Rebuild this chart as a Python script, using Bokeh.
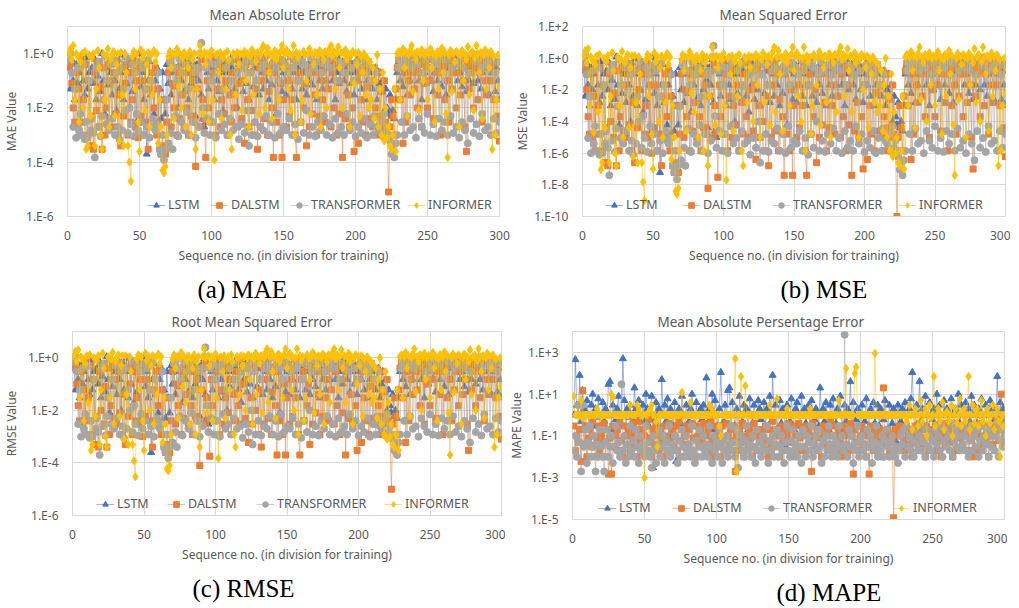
from bokeh.plotting import figure
from bokeh.models import (Range1d, FixedTicker, CustomJSTickFormatter, Legend,
                          LegendItem, Title)
from bokeh.layouts import column, row
from bokeh.embed import file_html
from bokeh.resources import INLINE

SERIES = ["LSTM", "DALSTM", "TRANSFORMER", "INFORMER"]
X_TICKS = [0, 50, 100, 150, 200, 250, 300]

# ---------------- MAE ----------------
MAE_LSTM = [
 .3, .05, .6, .1, 2e-2, .4, .08, .2, 3e-3, .5,
 .1, .03, .7, .05, .2, 4e-3, .3, .08, .6, .02,
 .15, .4, .04, 1, .1, 6e-3, .3, .07, .5, .2,
 .03, .4, .1, 8e-3, .6, .05, .2, .9, .02, .3,
 .08, .5, .01, .2, .04, .7, .1, 3e-3, .3, 1,
 .06, .2, .02, .4, 2e-4, .1, .5, .03, .2, 6e-3,
 .1, .3, 3e-3, .05, 4e-3, .2, .02, 6e-3, .4, .08,
 .5, .03, .2, .9, .06, .3, .01, .4, .1, .7,
 .04, .2, .6, .02, .3, .08, .5, .15, 5e-3, .4,
 .1, .8, .03, 4e-3, 2e-3, 3e-3, .2, .05, .6, .1,
 .3, .02, .5, .1, .04, .7, .2, 8e-3, .4, .06,
 .2, .5, .03, .3, .9, .05, .2, .01, .4, .1,
 .6, .04, .3, .08, .5, .02, .2, .7, .06, .3,
 .1, .4, .03, .6, .2, .05, .8, .1, .3, .02,
 .4, .07, .2, .5, 6e-3, .3, .1, .6, .04, .2,
 .5, .03, .3, .1, .7, .05, .2, .4, .02, .3,
 .1, .6, .05, .2, .9, .03, .4, .1, .5, .07,
 .2, .4, .02, .3, .1, .6, .05, .3, .8, .1,
 .05, .3, .6, .1, .4, .02, .2, .7, .08, .3,
 .5, .1, .3, .04, .6, .2, .08, .4, .03, .2,
 .6, .1, .3, .05, .2, .4, .02, .1, .3, .06,
 .2, .05, .1, .3, .02, .08, .2, .04, .1, 8e-3,
 .05, .01, 6e-3, .03, 5e-3, 8e-3, 4e-3, .02, .2, .5,
 .1, .4, .06, .8, .2, .03, .5, .1, .3, .7,
 .05, .3, .6, .1, .4, .02, .5, .2, .08, .6,
 .3, .1, .7, .04, .2, .5, .1, .3, .9, .06,
 .2, .4, .03, .6, .1, .3, .05, .5, .2, .8,
 .1, .4, .2, .06, .7, .3, .04, .5, .1, .3,
 .6, .08, .3, .9, .1, .4, .05, .2, 1, .3,
 .1, .5, .03, .4, .2, .6, .04, .3, .1, .02]
MAE_DALSTM = [
 .3, .5, .08, .01, 3e-3, .2, 2e-3, .05, 1e-3, .6,
 .02, 3e-3, .4, 1e-3, .1, 4e-4, 5e-3, 3e-4, .2, 8e-3,
 .5, 2e-3, .06, 3e-4, .3, 1e-3, .01, .4, 4e-3, .1,
 2e-3, .2, 6e-3, .5, 1e-3, .03, 4e-4, .3, 5e-3, .08,
 .4, 1e-3, .2, 3e-3, .02, .6, 2e-3, .1, 8e-4, .3,
 5e-3, .1, 1e-3, .4, 3e-3, 3e-4, .05, 2e-3, .2, .01,
 .3, 1e-3, .05, 3e-4, 2e-4, 4e-4, .02, 2e-4, 3e-3, .2,
 .5, 2e-3, .08, .01, .3, 1e-3, .2, 4e-3, .6, .03,
 2e-3, .4, .01, 1e-3, .2, 5e-3, .1, 3e-3, 7e-5, .05,
 .3, 2e-3, .6, .02, 4e-3, 1.5e-4, .1, .01, .5, 3e-3,
 .8, .2, 1e-3, .05, .4, 2e-3, .02, .3, 6e-3, .1,
 1e-3, .5, .03, 3e-3, .2, .01, .6, 2e-3, .08, .3,
 4e-3, .1, 5e-4, .4, .02, 2e-3, .2, 8e-3, .5, 1e-3,
 .05, 3e-4, .3, 2e-3, .1, .6, 4e-3, .2, 1e-3, .04,
 .3, .01, 1.5e-4, .2, 3e-3, .5, 1e-3, .08, 1.5e-4, .02,
 .4, 2e-3, .1, 5e-3, .3, .02, .6, 1e-3, 1.5e-4, .1,
 .2, 3e-3, .5, .01, .08, 4e-4, .3, 2e-3, .2, 6e-3,
 .4, .03, 1e-3, .2, 5e-3, .6, .02, .1, 3e-3, .3,
 .05, .5, 2e-3, .2, .01, .4, 1e-3, .1, 6e-3, .3,
 1.5e-4, .2, 4e-3, .5, .03, 2e-3, .3, .01, 2.5e-4, .1,
 .4, 5e-4, .2, .02, 3e-3, .3, 1e-3, .06, .5, 4e-3,
 .1, 2e-3, .3, .01, 1e-3, .2, 5e-3, .04, 2e-3, .1,
 3e-3, 1e-3, 8e-6, 2e-3, .02, 5e-3, 1e-3, .05, .3, .6,
 .02, .4, 5e-4, .2, 3e-3, .5, .1, .03, .6, .2,
 .05, .3, .01, .4, .2, 2e-3, .5, .08, .3, .01,
 .6, .1, .3, 4e-3, .4, .2, .03, .5, 1e-3, .2,
 .3, .02, .4, .1, 3e-3, .6, .05, .2, .4, .01,
 .2, .5, .03, .3, .1, 2e-3, 2.5e-4, .4, .05, .2,
 .5, .01, .3, .6, .02, .2, .4, 3e-3, .1, .5,
 .03, .3, .6, .1, .4, .02, .2, .5, 5e-3, 6e-4]
MAE_TRANSFORMER = [
 .6, 1, .2, 2e-3, .05, 8e-4, .3, 1.5e-3, 6e-3, 1e-3,
 .4, 7e-4, 3e-3, 8e-4, .1, 1.5e-3, 4e-3, 1.2e-3, 1.5e-4, .3,
 2e-3, .5, 9e-4, 5e-3, .02, .8, 2.5e-3, .1, 1.5e-3, .4,
 4e-3, .6, 1e-3, .2, 2e-3, 7e-4, .3, 1.5e-3, .05, 8e-3,
 .7, 1.2e-3, .01, 2.5e-3, .4, 9e-4, .2, 6e-3, 1.5e-3, .5,
 3e-3, .3, 1e-3, .05, 2e-3, .6, 8e-4, .1, 4e-3, 2e-3,
 1.5e-3, 2.5e-3, .2, 3e-4, 2e-4, 1e-3, 1.2e-4, 3e-4, .02, 5e-4,
 .5, 1.2e-3, 3e-4, .3, 5e-3, .1, 9e-4, .6, 3e-3, .2,
 1.5e-3, .4, 7e-3, .05, 1e-3, .7, 3e-3, .2, 8e-4, .3,
 2e-3, 1, 2.5, .01, 1.2e-3, .3, 4e-3, .5, 1e-3, .1,
 3e-3, .4, 8e-4, .2, 6e-3, .6, 1.5e-3, .05, 2.5e-3, .3,
 1e-3, .5, 4e-3, .1, 1.5e-3, .8, 2e-3, .2, 7e-4, .4,
 2.5e-3, .3, 1.2e-3, .6, 8e-3, 4e-4, .2, 1e-3, .5, 3e-3,
 .1, 9e-4, .7, 2e-3, .3, 1.5e-3, .4, 5e-3, .9, 1e-3,
 .2, 3e-3, .5, 8e-4, .3, 6e-3, .1, 1.2e-3, .6, 2e-3,
 .4, 1.5e-3, .2, 4e-3, .8, 1e-3, .3, 2.5e-3, .5, 7e-4,
 .1, 3e-3, .6, 1.2e-3, .4, 8e-3, .2, 1e-3, .7, 2e-3,
 .3, 9e-4, .5, 3e-3, .9, 1.5e-3, .2, 5e-3, .4, 1e-3,
 .6, 2.5e-3, .3, 8e-4, .8, 4e-3, .1, 1.2e-3, .5, 2e-3,
 .4, 1e-3, .2, 6e-3, .7, 1.5e-3, .3, 3e-3, .1, 9e-4,
 .5, 2e-3, .3, 1.2e-3, .6, 4e-3, .2, 8e-4, .4, 2.5e-3,
 .1, 1e-3, 5e-3, .2, 2e-3, 1.5e-3, .05, 3e-3, 9e-4, 6e-3,
 1.2e-3, 2e-3, 1e-3, 6e-4, 2e-4, 3e-4, 1.5e-4, 5e-4, 1e-3, .3,
 .6, 3e-3, .4, 1e-3, .8, 5e-3, .5, 1.5e-3, .3, 2e-3,
 .7, 8e-4, .4, 4e-3, .9, 2e-3, .2, 1.2e-3, .6, 6e-3,
 .3, 1e-3, .8, 2.5e-3, .5, 9e-4, .4, 4e-3, .7, 1.5e-3,
 .2, 3e-3, .6, 1e-3, .9, 5e-3, .3, 1.2e-3, .5, 2e-3,
 .4, 8e-4, .7, 3e-3, .3, 1.5e-3, .8, 5e-4, .2, 4e-3,
 1, 1.2e-3, .5, 2.5e-3, .6, 9e-4, .3, 6e-3, .9, 1.5e-3,
 .4, 2e-3, .6, 1e-3, .7, 4e-3, .2, 1.2e-3, .5, 3e-3]
MAE_INFORMER = [
 1, 1.5, .6, 2, .02, 1, .8, 3e-3, .5, 1,
 .01, 1.2, 3e-4, 4e-4, .9, 5e-3, .7, 1, 4e-4, .05,
 1.3, .3, 1e-3, 3e-4, 1, .02, .8, 1.5, 2e-3, .6,
 .9, 1.2, 5e-3, .4, 1, 6e-4, 1.1, .03, 4e-4, 1,
 .2, 4e-4, 1e-4, 2e-5, .8, 1.2, .05, 1, 3e-3, 2.5e-4,
 1.4, .7, 1, 8e-3, .4, 1.1, 2e-3, .9, .03, 1.3,
 .5, 1, 5e-4, .02, 2e-3, 5e-5, 4e-5, 7e-5, 1e-3, .8,
 1.2, .3, 1, 4e-3, .9, 1.5, .06, 1, .01, .7,
 1.1, 2e-3, .8, .3, 1.2, 1e-3, .6, 1, 3e-4, .05,
 1, 2, .9, 6e-3, 1.1, .4, 1, 3e-3, .8, 1.3,
 .02, 1.2e-4, .9, 1, .2, 1.1, 4e-3, .7, 1, .05,
 1.2, .6, 1e-3, 3e-4, 1, .9, .03, 1.1, .4, 1,
 8e-3, .9, 1.2, .1, 1, 2e-3, .8, 1.4, .03, 1,
 .5, 1.1, 6e-3, .9, 1.5, 2, .01, 1, 1.6, .2,
 1, 4e-3, .8, 1.3, .6, 1, .02, 1.2, 2, .3,
 1, 1.4, .05, 1, 8e-3, .9, 2, 1e-3, 1.1, .7,
 1, 3e-3, .02, 1.2, .9, .1, 1, 1.5, 6e-3, 1,
 .4, 1.1, .03, .9, 1.3, 2e-3, 1, .6, 1.2, .01,
 1, 1.5, 2, .8, 1.2, .05, 1, 1.8, .3, 1.1,
 .01, 1, 1.4, .6, 1, 2e-3, .9, 1.2, .08, 1,
 .4, 1.1, 5e-3, .8, .2, 1, .03, .7, .01, .5,
 .02, .3, 4e-3, .1, .9, 2e-3, .05, 1e-3, .2, 6e-4,
 .01, 8e-4, 2e-3, 4e-4, 3e-4, 1e-3, .05, 2.5e-4, 1, 1.2,
 .02, 1, 1.5, .3, 1.1, 5e-3, .9, 1.3, 2, .04,
 1, .6, 1.2, 8e-3, 1, 1.4, .1, .9, 1.1, .02,
 1, 1.5, .3, 1, 3e-3, .8, 1.2, .05, 1, 1.6,
 .2, 1.1, 6e-3, 1.5e-4, .9, 1.3, .04, 1, .5, 1.2,
 1, 2e-3, .9, 1.3, .1, 1, .6, 1.8, .03, 1,
 1.2, 8e-3, .7, 2, 1, .2, 1.1, 4e-3, .9, 1.4,
 .05, 1, .3, 1.2, 3e-4, .8, 1e-3, .02, .9, .06]

# ---------------- MSE ----------------
MSE_LSTM = [
 .16, 4e-3, .5, .02, 1e-3, .25, .01, .1, 1.6e-5, .4,
 .02, 1.6e-3, .6, 4e-3, .1, 2.5e-5, .16, .01, .5, 1e-3,
 .04, .25, 2.5e-3, 1.2, .02, 6e-5, .16, 6e-3, .4, .1,
 1.6e-3, .25, .02, 1e-4, .5, 4e-3, .1, 1, 1e-3, .16,
 .01, .4, 4e-4, .1, 2.5e-3, .6, .02, 1.6e-5, .16, 1.2,
 6e-3, .1, 1e-3, .25, 6e-8, .02, .4, 1.6e-3, .1, 6e-5,
 .02, .16, 1.6e-5, 4e-3, 2.5e-5, .1, 1e-3, 6e-5, .25, .01,
 .4, 1.6e-3, .1, 1, 6e-3, .16, 4e-4, .25, .02, .6,
 2.5e-3, .1, .5, 1e-3, .16, .01, .4, .04, 4e-5, .25,
 .02, .8, 1.6e-3, 2.5e-5, 1e-5, 1.6e-5, .1, 4e-3, .5, .02,
 .16, 1e-3, .4, .02, 2.5e-3, .6, .1, 1e-4, .25, 6e-3,
 .1, .4, 1.6e-3, .16, 1, 4e-3, .1, 4e-4, .25, .02,
 .5, 2.5e-3, .16, .01, .4, 1e-3, .1, .6, 6e-3, .16,
 .02, .25, 1.6e-3, .5, .1, 4e-3, .8, .02, .16, 1e-3,
 .25, 6e-3, .1, .4, 6e-5, .16, .02, .5, 2.5e-3, .1,
 .4, 1.6e-3, .16, .02, .6, 4e-3, .1, .25, 1e-3, .16,
 .02, .5, 4e-3, .1, 1, 1.6e-3, .25, .02, .4, 6e-3,
 .1, .25, 1e-3, .16, .02, .5, 4e-3, .16, .8, .02,
 4e-3, .16, .5, .02, .25, 1e-3, .1, .6, .01, .16,
 .4, .02, .16, 2.5e-3, .5, .1, .01, .25, 1.6e-3, .1,
 .5, .02, .16, 4e-3, .1, .25, 1e-3, .02, .16, 6e-3,
 .1, 4e-3, .02, .16, 1e-3, .01, .1, 2.5e-3, .02, 1e-4,
 4e-3, 2e-4, 6e-5, 1.6e-3, 4e-5, 1e-4, 2.5e-5, 1e-3, .1, .4,
 .02, .25, 6e-3, .8, .1, 1.6e-3, .4, .02, .16, .6,
 4e-3, .16, .5, .02, .25, 1e-3, .4, .1, .01, .5,
 .16, .02, .6, 2.5e-3, .1, .4, .02, .16, 1, 6e-3,
 .1, .25, 1.6e-3, .5, .02, .16, 4e-3, .4, .1, .8,
 .02, .25, .1, 6e-3, .6, .16, 2.5e-3, .4, .02, .16,
 .5, .01, .16, 1, .02, .25, 4e-3, .1, 1.2, .16,
 .02, .4, 1.6e-3, .25, .1, .5, 2.5e-3, .16, .02, 1e-3]
MSE_DALSTM = [
 .16, .4, .01, 2e-4, 1.6e-5, .1, 1e-5, 4e-3, 1.4e-6, .5,
 1e-3, 1.6e-5, .25, 1.4e-6, .02, 2.5e-7, 4e-5, 1.6e-7, .1, 1e-4,
 .4, 1e-5, 6e-3, 1.6e-7, .16, 1.4e-6, 2e-4, .25, 2.5e-5, .02,
 1e-5, .1, 6e-5, .4, 1.4e-6, 1.6e-3, 2.5e-7, .16, 4e-5, .01,
 .25, 1.4e-6, .1, 1.6e-5, 1e-3, .5, 1e-5, .02, 1e-6, .16,
 4e-5, .02, 1.4e-6, .25, 1.6e-5, 1.6e-7, 4e-3, 1e-5, .1, 2e-4,
 .16, 1.4e-6, 4e-3, 1.6e-7, 6e-8, 2.5e-7, 1e-3, 6e-8, 1.6e-5, .1,
 .4, 1e-5, .01, 2e-4, .16, 1.4e-6, .1, 2.5e-5, .5, 1.6e-3,
 1e-5, .25, 2e-4, 1.4e-6, .1, 4e-5, .02, 1.6e-5, 6e-9, 4e-3,
 .16, 1e-5, .5, 1e-3, 2.5e-5, 3e-8, .02, 2e-4, .4, 1.6e-5,
 .8, .1, 1.4e-6, 4e-3, .25, 1e-5, 1e-3, .16, 6e-5, .02,
 1.4e-6, .4, 1.6e-3, 1.6e-5, .1, 2e-4, .5, 1e-5, .01, .16,
 2.5e-5, .02, 4e-7, .25, 1e-3, 1e-5, .1, 1e-4, .4, 1.4e-6,
 4e-3, 1.6e-7, .16, 1e-5, .02, .5, 2.5e-5, .1, 1.4e-6, 2.5e-3,
 .16, 2e-4, 4e-8, .1, 1.6e-5, .4, 1.4e-6, .01, 4e-8, 1e-3,
 .25, 1e-5, .02, 4e-5, .16, 1e-3, .5, 1.4e-6, 4e-8, .02,
 .1, 1.6e-5, .4, 2e-4, .01, 2.5e-7, .16, 1e-5, .1, 6e-5,
 .25, 1.6e-3, 1.4e-6, .1, 4e-5, .5, 1e-3, .02, 1.6e-5, .16,
 4e-3, .4, 1e-5, .1, 2e-4, .25, 1.4e-6, .02, 6e-5, .16,
 4e-8, .1, 2.5e-5, .4, 1.6e-3, 1e-5, .16, 2e-4, 1e-7, .02,
 .25, 4e-7, .1, 1e-3, 1.6e-5, .16, 1.4e-6, 6e-3, .4, 2.5e-5,
 .02, 1e-5, .16, 2e-4, 1.4e-6, .1, 4e-5, 2.5e-3, 1e-5, .02,
 1.6e-5, 1.4e-6, 1e-10, 1e-5, 1e-3, 4e-5, 1.4e-6, 4e-3, .16, .5,
 1e-3, .25, 4e-7, .1, 1.6e-5, .4, .02, 1.6e-3, .5, .1,
 4e-3, .16, 2e-4, .25, .1, 1e-5, .4, .01, .16, 2e-4,
 .5, .02, .16, 2.5e-5, .25, .1, 1.6e-3, .4, 1.4e-6, .1,
 .16, 1e-3, .25, .02, 1.6e-5, .5, 4e-3, .1, .25, 2e-4,
 .1, .4, 1.6e-3, .16, .02, 1e-5, 1e-7, .25, 4e-3, .1,
 .4, 2e-4, .16, .5, 1e-3, .1, .25, 1.6e-5, .02, .4,
 1.6e-3, .16, .5, .02, .25, 1e-3, .1, .4, 4e-5, 6e-7]
MSE_TRANSFORMER = [
 .5, 1.4, .09, 9e-6, 3.6e-3, 1e-6, .16, 4e-6, 5e-5, 1.4e-6,
 .25, 8e-7, 1.6e-5, 1e-6, .02, 4e-6, 2.5e-5, 2.2e-6, 4e-8, .16,
 6e-6, .36, 1.2e-6, 3.6e-5, 9e-4, .8, 9e-6, .02, 4e-6, .25,
 2.5e-5, .5, 1.4e-6, .09, 6e-6, 8e-7, .16, 4e-6, 3.6e-3, 1e-4,
 .64, 2.2e-6, 2.2e-4, 9e-6, .25, 1.2e-6, .09, 5e-5, 4e-6, .36,
 1.6e-5, .16, 1.4e-6, 3.6e-3, 6e-6, .5, 1e-6, .02, 2.5e-5, 6e-6,
 4e-6, 9e-6, .09, 1.6e-7, 6e-8, 1.4e-6, 2.2e-8, 1.6e-7, 9e-4, 3.6e-7,
 .36, 2.2e-6, 1.6e-7, .16, 3.6e-5, .02, 1.2e-6, .5, 1.6e-5, .09,
 4e-6, .25, 6e-5, 3.6e-3, 1.4e-6, .64, 1.6e-5, .09, 1e-6, .16,
 6e-6, 1.2, 6, 2.2e-4, 2.2e-6, .16, 2.5e-5, .36, 1.4e-6, .02,
 1.6e-5, .25, 1e-6, .09, 5e-5, .5, 4e-6, 3.6e-3, 9e-6, .16,
 1.4e-6, .36, 2.5e-5, .02, 4e-6, .8, 6e-6, .09, 8e-7, .25,
 9e-6, .16, 2.2e-6, .5, 1e-4, 2.5e-7, .09, 1.4e-6, .36, 1.6e-5,
 .02, 1.2e-6, .64, 6e-6, .16, 4e-6, .25, 3.6e-5, 1, 1.4e-6,
 .09, 1.6e-5, .36, 1e-6, .16, 5e-5, .02, 2.2e-6, .5, 6e-6,
 .25, 4e-6, .09, 2.5e-5, .8, 1.4e-6, .16, 9e-6, .36, 8e-7,
 .02, 1.6e-5, .5, 2.2e-6, .25, 1e-4, .09, 1.4e-6, .64, 6e-6,
 .16, 1.2e-6, .36, 1.6e-5, 1, 4e-6, .09, 3.6e-5, .25, 1.4e-6,
 .5, 9e-6, .16, 1e-6, .8, 2.5e-5, .02, 2.2e-6, .36, 6e-6,
 .25, 1.4e-6, .09, 5e-5, .64, 4e-6, .16, 1.6e-5, .02, 1.2e-6,
 .36, 6e-6, .16, 2.2e-6, .5, 2.5e-5, .09, 1e-6, .25, 9e-6,
 .02, 1.4e-6, 3.6e-5, .09, 6e-6, 4e-6, 3.6e-3, 1.6e-5, 1.2e-6, 5e-5,
 2.2e-6, 6e-6, 1.4e-6, 6e-7, 9e-8, 1.6e-7, 4e-8, 3.6e-7, 1.4e-6, .16,
 .5, 1.6e-5, .25, 1.4e-6, .8, 3.6e-5, .36, 4e-6, .16, 6e-6,
 .64, 1e-6, .25, 2.5e-5, 1, 6e-6, .09, 2.2e-6, .5, 5e-5,
 .16, 1.4e-6, .8, 9e-6, .36, 1.2e-6, .25, 2.5e-5, .64, 4e-6,
 .09, 1.6e-5, .5, 1.4e-6, 1, 3.6e-5, .16, 2.2e-6, .36, 6e-6,
 .25, 1e-6, .64, 1.6e-5, .16, 4e-6, .8, 3.6e-7, .09, 2.5e-5,
 1.2, 2.2e-6, .36, 9e-6, .5, 1.2e-6, .16, 5e-5, 1, 4e-6,
 .25, 6e-6, .5, 1.4e-6, .64, 2.5e-5, .09, 2.2e-6, .36, 1.6e-5]
MSE_INFORMER = [
 1.4, 3, .5, 4, 1e-3, 1.2, .8, 2e-5, .4, 1.4,
 4e-4, 1.7, 9e-8, 2.5e-7, 1, 4e-5, .6, 1.4, 2.5e-7, 4e-3,
 2.2, .16, 1e-6, 1.6e-7, 1.2, 1e-3, .8, 2.6, 1e-5, .5,
 1, 1.7, 4e-5, .25, 1.4, 6e-7, 1.4, 1.6e-3, 2.5e-7, 1.2,
 .1, 2.5e-7, 1.5e-8, 1e-9, .8, 1.7, 4e-3, 1.2, 1.6e-5, 1e-7,
 2.2, .6, 1.2, 1e-4, .25, 1.4, 1e-5, 1, 1.6e-3, 2,
 .4, 1.2, 4e-7, 1e-3, 1e-5, 4e-9, 2.5e-9, 6e-9, 1.4e-6, .8,
 1.7, .16, 1.2, 2.5e-5, 1, 2.6, 6e-3, 1.2, 4e-4, .6,
 1.4, 1e-5, .8, .16, 1.7, 1.4e-6, .5, 1.2, 1.6e-7, 4e-3,
 1.2, 5, 1, 6e-5, 1.4, .25, 1.2, 1.6e-5, .8, 2,
 1e-3, 2e-8, 1, 1.2, .1, 1.4, 2.5e-5, .6, 1.2, 4e-3,
 1.7, .5, 1.4e-6, 1.6e-7, 1.2, 1, 1.6e-3, 1.4, .25, 1.2,
 1e-4, 1, 1.7, .02, 1.2, 1e-5, .8, 2.2, 1.6e-3, 1.2,
 .4, 1.4, 6e-5, 1, 2.6, 5, 4e-4, 1.2, 3, .1,
 1.2, 2.5e-5, .8, 2, .5, 1.2, 1e-3, 1.7, 5, .16,
 1.2, 2.2, 4e-3, 1.2, 1e-4, 1, 5, 1.4e-6, 1.4, .6,
 1.2, 1.6e-5, 1e-3, 1.7, 1, .02, 1.2, 2.6, 6e-5, 1.2,
 .25, 1.4, 1.6e-3, 1, 2, 1e-5, 1.2, .5, 1.7, 4e-4,
 1.2, 2.6, 5, .8, 1.7, 4e-3, 1.2, 4, .16, 1.4,
 4e-4, 1.2, 2.2, .5, 1.2, 1e-5, 1, 1.7, .01, 1.2,
 .25, 1.4, 4e-5, .8, .1, 1.2, 1.6e-3, .6, 4e-4, .4,
 1e-3, .16, 2.5e-5, .02, 1, 1e-5, 4e-3, 1.4e-6, .1, 6e-7,
 4e-4, 1e-6, 1e-5, 2.5e-7, 1.6e-7, 1.4e-6, 4e-3, 1e-7, 1.2, 1.7,
 1e-3, 1.2, 2.6, .16, 1.4, 4e-5, 1, 2, 5, 2.5e-3,
 1.2, .5, 1.7, 1e-4, 1.2, 2.2, .02, 1, 1.4, 1e-3,
 1.2, 2.6, .16, 1.2, 1.6e-5, .8, 1.7, 4e-3, 1.2, 3,
 .1, 1.4, 6e-5, 4e-8, 1, 2, 2.5e-3, 1.2, .4, 1.7,
 1.2, 1e-5, 1, 2, .02, 1.2, .5, 4, 1.6e-3, 1.2,
 1.7, 1e-4, .6, 5, 1.2, .1, 1.4, 2.5e-5, 1, 2.2,
 4e-3, 1.2, .16, 1.7, 1.6e-7, .8, 1.4e-6, 1e-3, 1, 6e-3]

# ---------------- RMSE ----------------
RMSE_LSTM = [
 .4, .06, .7, .15, .03, .5, .1, .3, 4e-3, .6,
 .15, .04, .8, .06, .3, 5e-3, .4, .1, .7, .03,
 .2, .5, .05, 1.1, .15, 8e-3, .4, .08, .6, .3,
 .04, .5, .15, .01, .7, .06, .3, 1, .03, .4,
 .1, .6, .02, .3, .05, .8, .15, 4e-3, .4, 1.1,
 .08, .3, .03, .5, 2.5e-4, .15, .6, .04, .3, 8e-3,
 .15, .4, 4e-3, .06, 5e-3, .3, .03, 8e-3, .5, .1,
 .6, .04, .3, 1, .08, .4, .02, .5, .15, .8,
 .05, .3, .7, .03, .4, .1, .6, .2, 6e-3, .5,
 .15, .9, .04, 5e-3, 3e-3, 4e-3, .3, .06, .7, .15,
 .4, .03, .6, .15, .05, .8, .3, .01, .5, .08,
 .3, .6, .04, .4, 1, .06, .3, .02, .5, .15,
 .7, .05, .4, .1, .6, .03, .3, .8, .08, .4,
 .15, .5, .04, .7, .3, .06, .9, .15, .4, .03,
 .5, .08, .3, .6, 8e-3, .4, .15, .7, .05, .3,
 .6, .04, .4, .15, .8, .06, .3, .5, .03, .4,
 .15, .7, .06, .3, 1, .04, .5, .15, .6, .08,
 .3, .5, .03, .4, .15, .7, .06, .4, .9, .15,
 .06, .4, .7, .15, .5, .03, .3, .8, .1, .4,
 .6, .15, .4, .05, .7, .3, .1, .5, .04, .3,
 .7, .15, .4, .06, .3, .5, .03, .15, .4, .08,
 .3, .06, .15, .4, .03, .1, .3, .05, .15, .01,
 .06, .015, 8e-3, .04, 6e-3, .01, 5e-3, .03, .3, .6,
 .15, .5, .08, .9, .3, .04, .6, .15, .4, .8,
 .06, .4, .7, .15, .5, .03, .6, .3, .1, .7,
 .4, .15, .8, .05, .3, .6, .15, .4, 1, .08,
 .3, .5, .04, .7, .15, .4, .06, .6, .3, .9,
 .15, .5, .3, .08, .8, .4, .05, .6, .15, .4,
 .7, .1, .4, 1, .15, .5, .06, .3, 1.1, .4,
 .15, .6, .04, .5, .3, .7, .05, .4, .15, .03]
RMSE_DALSTM = [
 .4, .6, .1, .015, 4e-3, .3, 3e-3, .06, 1.2e-3, .7,
 .03, 4e-3, .5, 1.2e-3, .15, 5e-4, 6e-3, 4e-4, .3, .01,
 .6, 3e-3, .08, 4e-4, .4, 1.2e-3, .015, .5, 5e-3, .15,
 3e-3, .3, 8e-3, .6, 1.2e-3, .04, 5e-4, .4, 6e-3, .1,
 .5, 1.2e-3, .3, 4e-3, .03, .7, 3e-3, .15, 1e-3, .4,
 6e-3, .15, 1.2e-3, .5, 4e-3, 4e-4, .06, 3e-3, .3, .015,
 .4, 1.2e-3, .06, 4e-4, 2.5e-4, 5e-4, .03, 2.5e-4, 4e-3, .3,
 .6, 3e-3, .1, .015, .4, 1.2e-3, .3, 5e-3, .7, .04,
 3e-3, .5, .015, 1.2e-3, .3, 6e-3, .15, 4e-3, 8e-5, .06,
 .4, 3e-3, .7, .03, 5e-3, 1.8e-4, .15, .015, .6, 4e-3,
 .9, .3, 1.2e-3, .06, .5, 3e-3, .03, .4, 8e-3, .15,
 1.2e-3, .6, .04, 4e-3, .3, .015, .7, 3e-3, .1, .4,
 5e-3, .15, 6e-4, .5, .03, 3e-3, .3, .01, .6, 1.2e-3,
 .06, 4e-4, .4, 3e-3, .15, .7, 5e-3, .3, 1.2e-3, .05,
 .4, .015, 2e-4, .3, 4e-3, .6, 1.2e-3, .1, 2e-4, .03,
 .5, 3e-3, .15, 6e-3, .4, .03, .7, 1.2e-3, 2e-4, .15,
 .3, 4e-3, .6, .015, .1, 5e-4, .4, 3e-3, .3, 8e-3,
 .5, .04, 1.2e-3, .3, 6e-3, .7, .03, .15, 4e-3, .4,
 .06, .6, 3e-3, .3, .015, .5, 1.2e-3, .15, 8e-3, .4,
 2e-4, .3, 5e-3, .6, .04, 3e-3, .4, .015, 3e-4, .15,
 .5, 6e-4, .3, .03, 4e-3, .4, 1.2e-3, .08, .6, 5e-3,
 .15, 3e-3, .4, .015, 1.2e-3, .3, 6e-3, .05, 3e-3, .15,
 4e-3, 1.2e-3, 1e-5, 3e-3, .03, 6e-3, 1.2e-3, .06, .4, .7,
 .03, .5, 6e-4, .3, 4e-3, .6, .15, .04, .7, .3,
 .06, .4, .015, .5, .3, 3e-3, .6, .1, .4, .015,
 .7, .15, .4, 5e-3, .5, .3, .04, .6, 1.2e-3, .3,
 .4, .03, .5, .15, 4e-3, .7, .06, .3, .5, .015,
 .3, .6, .04, .4, .15, 3e-3, 3e-4, .5, .06, .3,
 .6, .015, .4, .7, .03, .3, .5, 4e-3, .15, .6,
 .04, .4, .7, .15, .5, .03, .3, .6, 6e-3, 8e-4]
RMSE_TRANSFORMER = [
 .7, 1.2, .3, 3e-3, .06, 1e-3, .4, 2e-3, 7e-3, 1.2e-3,
 .5, 9e-4, 4e-3, 1e-3, .15, 2e-3, 5e-3, 1.5e-3, 2e-4, .4,
 2.5e-3, .6, 1.1e-3, 6e-3, .03, .9, 3e-3, .15, 2e-3, .5,
 5e-3, .7, 1.2e-3, .3, 2.5e-3, 9e-4, .4, 2e-3, .06, 1e-2,
 .8, 1.5e-3, .015, 3e-3, .5, 1.1e-3, .3, 7e-3, 2e-3, .6,
 4e-3, .4, 1.2e-3, .06, 2.5e-3, .7, 1e-3, .15, 5e-3, 2.5e-3,
 2e-3, 3e-3, .3, 4e-4, 2.5e-4, 1.2e-3, 1.5e-4, 4e-4, .03, 6e-4,
 .6, 1.5e-3, 4e-4, .4, 6e-3, .15, 1.1e-3, .7, 4e-3, .3,
 2e-3, .5, 8e-3, .06, 1.2e-3, .8, 4e-3, .3, 1e-3, .4,
 2.5e-3, 1.1, 2.5, .015, 1.5e-3, .4, 5e-3, .6, 1.2e-3, .15,
 4e-3, .5, 1e-3, .3, 7e-3, .7, 2e-3, .06, 3e-3, .4,
 1.2e-3, .6, 5e-3, .15, 2e-3, .9, 2.5e-3, .3, 9e-4, .5,
 3e-3, .4, 1.5e-3, .7, 1e-2, 5e-4, .3, 1.2e-3, .6, 4e-3,
 .15, 1.1e-3, .8, 2.5e-3, .4, 2e-3, .5, 6e-3, 1, 1.2e-3,
 .3, 4e-3, .6, 1e-3, .4, 7e-3, .15, 1.5e-3, .7, 2.5e-3,
 .5, 2e-3, .3, 5e-3, .9, 1.2e-3, .4, 3e-3, .6, 9e-4,
 .15, 4e-3, .7, 1.5e-3, .5, 1e-2, .3, 1.2e-3, .8, 2.5e-3,
 .4, 1.1e-3, .6, 4e-3, 1, 2e-3, .3, 6e-3, .5, 1.2e-3,
 .7, 3e-3, .4, 1e-3, .9, 5e-3, .15, 1.5e-3, .6, 2.5e-3,
 .5, 1.2e-3, .3, 7e-3, .8, 2e-3, .4, 4e-3, .15, 1.1e-3,
 .6, 2.5e-3, .4, 1.5e-3, .7, 5e-3, .3, 1e-3, .5, 3e-3,
 .15, 1.2e-3, 6e-3, .3, 2.5e-3, 2e-3, .06, 4e-3, 1.1e-3, 7e-3,
 1.5e-3, 2.5e-3, 1.2e-3, 8e-4, 3e-4, 4e-4, 2e-4, 6e-4, 1.2e-3, .4,
 .7, 4e-3, .5, 1.2e-3, .9, 6e-3, .6, 2e-3, .4, 2.5e-3,
 .8, 1e-3, .5, 5e-3, 1, 2.5e-3, .3, 1.5e-3, .7, 7e-3,
 .4, 1.2e-3, .9, 3e-3, .6, 1.1e-3, .5, 5e-3, .8, 2e-3,
 .3, 4e-3, .7, 1.2e-3, 1, 6e-3, .4, 1.5e-3, .6, 2.5e-3,
 .5, 1e-3, .8, 4e-3, .4, 2e-3, .9, 6e-4, .3, 5e-3,
 1.1, 1.5e-3, .6, 3e-3, .7, 1.1e-3, .4, 7e-3, 1, 2e-3,
 .5, 2.5e-3, .7, 1.2e-3, .8, 5e-3, .3, 1.5e-3, .6, 4e-3]
RMSE_INFORMER = [
 1.2, 1.8, .7, 2, .03, 1.1, .9, 4e-3, .6, 1.2,
 .02, 1.3, 3e-4, 5e-4, 1, 6e-3, .8, 1.2, 5e-4, .06,
 1.5, .4, 1e-3, 4e-4, 1.1, .03, .9, 1.6, 3e-3, .7,
 1, 1.3, 6e-3, .5, 1.2, 8e-4, 1.2, .04, 5e-4, 1.1,
 .3, 5e-4, 1.2e-4, 3e-5, .9, 1.3, .06, 1.1, 4e-3, 3e-4,
 1.5, .8, 1.1, .01, .5, 1.2, 3e-3, 1, .04, 1.4,
 .6, 1.1, 6e-4, .03, 3e-3, 6e-5, 5e-5, 8e-5, 1.2e-3, .9,
 1.3, .4, 1.1, 5e-3, 1, 1.6, .08, 1.1, .02, .8,
 1.2, 3e-3, .9, .4, 1.3, 1.2e-3, .7, 1.1, 4e-4, .06,
 1.1, 2.2, 1, 8e-3, 1.2, .5, 1.1, 4e-3, .9, 1.4,
 .03, 1.5e-4, 1, 1.1, .3, 1.2, 5e-3, .8, 1.1, .06,
 1.3, .7, 1.2e-3, 4e-4, 1.1, 1, .04, 1.2, .5, 1.1,
 .01, 1, 1.3, .15, 1.1, 3e-3, .9, 1.5, .04, 1.1,
 .6, 1.2, 8e-3, 1, 1.6, 2.2, .02, 1.1, 1.7, .3,
 1.1, 5e-3, .9, 1.4, .7, 1.1, .03, 1.3, 2.2, .4,
 1.1, 1.5, .06, 1.1, .01, 1, 2.2, 1.2e-3, 1.2, .8,
 1.1, 4e-3, .03, 1.3, 1, .15, 1.1, 1.6, 8e-3, 1.1,
 .5, 1.2, .04, 1, 1.4, 3e-3, 1.1, .7, 1.3, .02,
 1.1, 1.6, 2.2, .9, 1.3, .06, 1.1, 2, .4, 1.2,
 .02, 1.1, 1.5, .7, 1.1, 3e-3, 1, 1.3, .1, 1.1,
 .5, 1.2, 6e-3, .9, .3, 1.1, .04, .8, .02, .6,
 .03, .4, 5e-3, .15, 1, 3e-3, .06, 1.2e-3, .3, 8e-4,
 .02, 1e-3, 3e-3, 5e-4, 4e-4, 1.2e-3, .06, 3e-4, 1.1, 1.3,
 .03, 1.1, 1.6, .4, 1.2, 6e-3, 1, 1.4, 2.2, .05,
 1.1, .7, 1.3, .01, 1.1, 1.5, .15, 1, 1.2, .03,
 1.1, 1.6, .4, 1.1, 4e-3, .9, 1.3, .06, 1.1, 1.7,
 .3, 1.2, 8e-3, 2e-4, 1, 1.4, .05, 1.1, .6, 1.3,
 1.1, 3e-3, 1, 1.4, .15, 1.1, .7, 2, .04, 1.1,
 1.3, .01, .8, 2.2, 1.1, .3, 1.2, 5e-3, 1, 1.5,
 .06, 1.1, .4, 1.3, 4e-4, .9, 1.2e-3, .03, 1, .08]

# ---------------- MAPE ----------------
MAPE_LSTM = [
 1, 450, 3, 1, 80, .5, 15, 2, .2, 5,
 1, .05, 3, 10, .3, 2, .8, 6, .1, 1,
 4, .5, 2, 1, 30, 40, .2, 3, 1, .6,
 2, 8, .3, 1, 500, 5, .1, 2, .8, 3,
 1, .4, 20, 2, .7, 5, .1, 1, 3, .5,
 10, 2, .3, 1, 8, 3e-3, .6, 4, 1, 2,
 .2, 50, 1, 3, .5, 6, .1, 2, 1, .3,
 4, 6e-3, 1, 2, .4, 8, 1, .2, 3, 1,
 .5, 2, 10, 1, .3, 4, .08, 1, 2, .6,
 3, 1, 60, .4, 2, 1, 10, .2, 5, 1,
 .3, 2, 110, 1, .5, 3, 1, 15, 20, .2,
 4, 1, .3, 2, .05, 8, 1, .5, 3, 1,
 2, .2, 6, 1, .4, 3, 1, .1, 5, 2,
 .6, 1, 4, .3, 2, 1, 8, .5, 80, 1,
 3, .2, 1, 5, .4, 2, 1, .03, 3, 1,
 .5, 6, 1, .2, 2, 4, 1, .3, 8, 1,
 2, .4, 1, 3, .1, 5, 1, .6, 2, 1,
 .3, 20, 1, 2, .5, 4, 1, .2, 3, 1,
 6, 1, .4, 2, 1, 8, .2, 1, 3, .5,
 2, 1, 40, .3, 4, 1, .6, 2, 1, .1,
 3, 1, .5, 6, 1, .2, 2, 1, 4, .4,
 1, 3, .3, 2, 1, .6, 5, 1, .2, 3,
 1, .4, 2, 1, .05, 3, 1, .5, 2, 1,
 4, .3, 1, 2, 6, 110, 1, .2, 3, 1,
 40, .5, 2, 1, 8, .3, 1, 4, 1, .6,
 2, 1, 10, .4, 3, 1, .2, 5, 1, 2,
 .5, 1, 6, 1, .3, 2, 1, 10, .4, 3,
 1, .2, 4, 1, 2, .5, 8, 1, 3, 1,
 .4, 2, 1, 6, .3, 1, 3, .2, 1, 5,
 1, 2, .6, 1, 70, .3, 4, 1, 2, .5]
MAPE_DALSTM = [
 .3, .02, .1, .05, .2, 6e-3, 15, .04, .3, .01,
 .08, .2, .03, .5, .1, .01, .06, .3, .02, .1,
 .05, .4, .01, .2, 1.5e-3, .08, 1.5e-3, .3, .03, .1,
 .2, .02, .5, .06, .01, .3, .1, .04, .2, .02,
 .1, .4, .03, .2, .01, .5, .06, .2, .03, .1,
 .3, .02, .6, .08, .01, .2, .04, .3, .1, .02,
 .2, .05, .01, .3, .1, .02, .4, .06, .2, .03,
 .1, .3, .02, .5, .06, .2, .01, .1, .3, .04,
 .2, .02, .4, .08, .01, .3, .1, .03, .2, .05,
 .4, .03, .1, .2, .02, .5, .06, .01, .3, .1,
 .04, .2, .01, .3, .08, .02, .4, .1, .03, .2,
 .06, .3, 2e-3, .1, .02, .2, .05, .4, .01, .1,
 .3, .03, .2, .08, .01, .4, .1, .02, .2, .05,
 .1, .2, .02, .3, .06, .01, .2, .04, .5, .1,
 .03, .2, .1, .01, .3, .06, .2, .02, .1, .4,
 .05, .2, .01, .3, .1, .03, .4, .08, .02, .2,
 .1, .3, .02, .2, .06, 2e-3, .4, .1, .03, .2,
 .08, .2, .01, .3, .1, .04, .2, .02, .5, .1,
 .03, .3, .1, .02, .2, .06, .01, .3, .1, .04,
 .2, .02, .4, .1, 1.5e-3, .2, .05, .3, .02, .1,
 .3, .04, .2, .01, .1, 1.5e-3, .3, .06, .02, .2,
 .1, .03, .2, .06, .01, 20, .1, .04, .2, .02,
 .1, .05, 1.2e-5, .2, .03, .1, .3, .02, .2, .06,
 .02, .3, .1, .04, .2, .01, .1, .3, .05, .2,
 .4, .03, .2, .08, .01, .3, .1, .02, .2, .06,
 .1, .3, .02, .2, .06, .01, .4, .1, .03, .2,
 .3, .05, .2, .01, .1, .4, .02, .2, .08, .3,
 .04, .2, .1, .3, .02, .2, .06, .01, .3, .1,
 .2, .02, .4, .1, .03, .3, .06, .2, .01, .1,
 .3, .04, .2, .1, .5, .06, .2, 10, .05, .3]
MAPE_TRANSFORMER = [
 .02, .1, .01, 3, .05, 2e-3, 3, .03, .2, 5e-3,
 .05, .3, .01, .03, .1, 2e-3, .04, .01, .2, .03,
 .01, 2e-3, .05, .2, .01, .03, .1, 5e-3, .03, .3,
 .02, .05, .01, 30, .02, .1, 5e-3, .04, .01, .3,
 .02, .06, .01, .2, .03, 5e-3, .1, .02, .04, .01,
 .3, .02, .05, .01, 3e-3, .1, .02, 5e-3, .04, .2,
 .01, .03, .1, 5e-3, .05, .02, .3, .01, .04, .02,
 .1, .02, 5e-3, .06, .01, .2, .03, .01, .1, .02,
 .04, .01, .3, .02, 5e-3, .06, .01, .2, .03, .01,
 .1, .02, .04, .01, .3, .03, 5e-3, .1, .02, .05,
 .01, .2, .03, 5e-3, .06, .02, .1, .01, .04, .3,
 .02, .05, .01, .2, 3e-3, .04, .1, .02, .01, .06,
 .3, .02, .04, .01, .1, .03, 5e-3, .2, .02, .05,
 .01, .1, .03, .02, .3, 5e-3, .06, .02, .1, .01,
 .04, .2, .01, .03, .1, .02, 5e-3, .05, .3, .02,
 .01, .06, .2, .02, .04, .01, .1, .03, 5e-3, .2,
 .03, .01, .1, .05, .02, .3, .01, .04, .1, .02,
 .2, .03, 5e-3, .06, .01, .1, .02, .3, .04, .01,
 .1, .02, .05, .01, .3, .03, .1, .02, 7000, .04,
 .01, .2, .03, .1, 5e-3, .04, .02, .3, .01, .06,
 .1, .02, .04, .01, .2, .03, .1, 5e-3, .05, .02,
 .3, .01, .04, .02, .1, .01, .06, .2, .03, .01,
 .05, .1, .02, .01, .03, 5e-3, .02, .1, .04, .2,
 .01, .3, .03, .1, .02, .06, .01, .2, .04, .02,
 .1, .02, .3, .05, .01, .2, .03, .1, .02, .06,
 .01, .2, .04, .1, .02, .3, .01, .06, .2, .03,
 .1, .02, .4, .01, .06, .2, .03, .1, .02, .3,
 .04, .1, .02, .2, .01, .06, .3, .02, .1, .03,
 .2, .01, .06, .3, .02, .1, .04, .2, .01, .1,
 .03, .2, .02, .1, .4, .01, .06, .2, .03, .1]
MAPE_INFORMER = [
 8, 1, 1, 1, 1, 5, .7, 1, 1, 1,
 1, 1, 1, 1, 1, 1, 2, 1, 1, 1,
 1, 1, 1, 1, 1, 1, 10, 7, 1, 1,
 1, 1, 1, 1, 1, 1, 1, 1, 1, 3,
 1, 1, 1, 1, 3, 2, 1, 1, 1, 1e-3,
 1, 1, 1.5, 2, 3, 1, 1, .5, .03, 1,
 1, 1, 1, 1, 1, 1, 1, 1, 1, 1,
 1, 1, 1, 1, 1, 12, 1, 1, 1, 1,
 1, 4, 1, 1, 1, 1, 1, 1, 1, 1,
 1, 1, 1, 1, 3, 1, 2, 1, 1, 1,
 1, .3, .1, 1, 1, 1, 1, 1, 1, 1,
 1, 1, 500, 2e-3, 1, 1, 70, 1, 1, 25,
 1, 1, 1, 1, 1, 1, 1, 1, 1, 1,
 1, 1, 1, 1, 1, 1, 3, 1, 1, 1,
 1, 6, 1, 1, 1, 1, 1, 1, 2, 1,
 1, 1, 1, 1, 1, 1, 1, 1, 1, 1,
 1, 1, 1, 1, 2, 1, 1, 1, 1, 1,
 1, 1, 1, 1, 1, 1, 1, 1, 1, 1,
 1, 1, 1, 1, 5, 1, 1, 1, 1, 170,
 1, 1, 1, 1, 1, 100, 200, 1, 1, 1,
 1, 1, 1, 1, 1, 1, 1, 1, 1, 900,
 1, 1, 1, 1, 1, 1, 1, 1, 1, 1,
 1, 1, 1, 1, 1, 1, 1, 1, 1, 1,
 1, .5, 1, 3, 1, .2, 1, 2, 1, .3,
 1, 5, .5, 1, 2, .1, 1, 3, .7, 1,
 70, .3, 1, 2, .5, 1, 4, .2, 1, 1.5,
 .5, 1, 3, .1, 1, 2, .4, 1, 6, .3,
 1, 2, .5, 1, 70, .2, 1, 3, .4, 1,
 2, .3, 1, 5, .5, 1, .1, 2, 1, .4,
 1, 3, .2, 1, 2, .5, .01, 1, .3, 1]

COLORS = ["#4472C4", "#ED7D31", "#A5A5A5", "#FFC000"]
MARKERS = ["triangle", "square", "circle", "diamond"]
SIZES = [7, 6, 7, 8]
TXT = "#595959"
GRID = "#D9D9D9"
FONT = "Noto Sans"

FMT = CustomJSTickFormatter(code="""
const e = Math.round(Math.log10(tick));
return "1.E" + (e >= 0 ? "+" : "-") + Math.abs(e);
""")


def panel(title, title_off, title_standoff, ylabel, ylab_standoff, caption,
          series, ymin, ymax, yticks, fw, fh, bl, br, bt, cap_offset,
          cap_standoff, leg_x):
    p = figure(frame_width=fw, frame_height=fh, y_axis_type="log",
               x_range=Range1d(0, 300), y_range=Range1d(ymin, ymax),
               output_backend="svg", toolbar_location=None,
               min_border_left=bl, min_border_right=br,
               min_border_top=bt, min_border_bottom=0)
    p.title.text = title
    p.title.align = "left"
    p.title.offset = title_off
    p.title.text_font = FONT
    p.title.text_font_size = "13.5px"
    p.title.text_font_style = "normal"
    p.title.text_color = TXT
    p.title.standoff = title_standoff
    p.outline_line_color = GRID
    p.background_fill_color = "white"

    xt = FixedTicker(ticks=X_TICKS)
    yt = FixedTicker(ticks=yticks)
    p.xaxis.ticker = xt
    p.xgrid.ticker = xt
    p.yaxis.ticker = yt
    p.ygrid.ticker = yt
    p.yaxis.formatter = FMT
    for g in (p.xgrid, p.ygrid):
        g.grid_line_color = GRID
        g.grid_line_width = 1
    for ax in (p.xaxis, p.yaxis):
        ax.major_tick_line_color = None
        ax.minor_tick_line_color = None
        ax.major_label_text_font = FONT
        ax.major_label_text_font_size = "12px"
        ax.major_label_text_color = TXT
        ax.axis_label_text_font = FONT
        ax.axis_label_text_font_size = "12px"
        ax.axis_label_text_font_style = "normal"
        ax.axis_label_text_color = TXT
    p.xaxis.axis_line_color = GRID
    p.yaxis.axis_line_color = None
    p.xaxis.axis_label = "Sequence no. (in division for training)"
    p.yaxis.axis_label = ylabel
    p.xaxis.major_label_standoff = 8
    p.xaxis.axis_label_standoff = 4
    p.yaxis.major_label_standoff = 8
    p.yaxis.axis_label_standoff = ylab_standoff

    for i, name in enumerate(SERIES):
        vals = series[i]
        xs = list(range(1, len(vals) + 1))
        lr = p.line(xs, vals, line_color=COLORS[i], line_width=0.7,
                    line_alpha=0.75)
        sr = p.scatter(xs, vals, marker=MARKERS[i], size=SIZES[i],
                       fill_color=COLORS[i], line_color=COLORS[i])
        lg = Legend(items=[LegendItem(label=name, renderers=[lr, sr])],
                    location=(leg_x[i] - 9, 3), orientation="horizontal",
                    border_line_color=None, background_fill_alpha=0,
                    padding=0, margin=0, glyph_width=18, glyph_height=14,
                    label_standoff=3, label_text_font=FONT,
                    label_text_font_size="12.5px", label_text_color=TXT,
                    label_height=14)
        p.add_layout(lg, "center")

    p.add_layout(Title(text=caption, text_font="Liberation Serif",
                       text_font_size="25px", text_font_style="normal",
                       text_color="black", align="left", offset=cap_offset,
                       standoff=cap_standoff), "below")
    return p


pa = panel("Mean Absolute Error", 142, 6, "MAE Value", 0, "(a) MAE",
           [MAE_LSTM, MAE_DALSTM, MAE_TRANSFORMER, MAE_INFORMER],
           1e-6, 10, [1e-6, 1e-4, 1e-2, 1], 432, 190, 57, 11, 17,
           130, 14, [89, 152, 232, 349])
pb = panel("Mean Squared Error", 137, 6, "MSE Value", 0, "(b) MSE",
           [MSE_LSTM, MSE_DALSTM, MSE_TRANSFORMER, MSE_INFORMER],
           1e-10, 100, [1e-10, 1e-8, 1e-6, 1e-4, 1e-2, 1, 100],
           423, 190, 72, 5, 17, 198, 14, [32, 109, 199, 325])
pc = panel("Root Mean Squared Error", 99, 2, "RMSE Value", 5, "(c) RMSE",
           [RMSE_LSTM, RMSE_DALSTM, RMSE_TRANSFORMER, RMSE_INFORMER],
           1e-6, 10, [1e-6, 1e-4, 1e-2, 1], 429, 184, 67, 4, 21,
           120, 14, [33, 104, 193, 321])
pd_ = panel("Mean Absolute Persentage Error", 85, 2, "MAPE Value", 0,
            "(d) MAPE",
            [MAPE_LSTM, MAPE_DALSTM, MAPE_TRANSFORMER, MAPE_INFORMER],
            1e-5, 1e4, [1e-5, 1e-3, 1e-1, 10, 1000], 432, 188, 65, 3, 18,
            204, 14, [35, 109, 199, 329])

layout = column(row(pa, pb), row(pc, pd_))
open("out.html", "w").write(file_html(layout, INLINE))
